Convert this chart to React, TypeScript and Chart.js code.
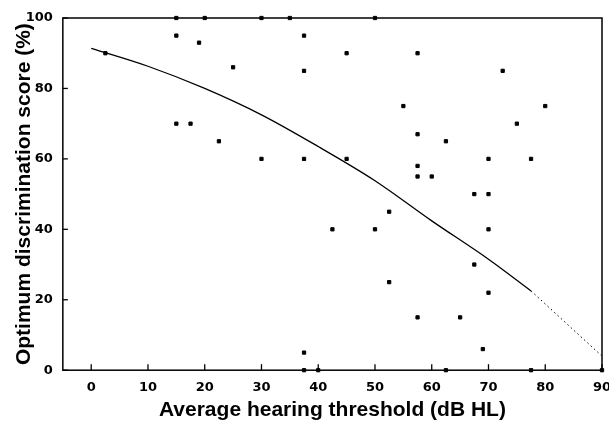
import React, { useEffect, useRef } from "react";
import { Chart, registerables } from "chart.js";

Chart.register(...registerables);

// Observed patients: average hearing threshold (dB HL) vs optimum discrimination score (%)
const scatterX = [
  2.5, 15, 15, 15, 17.5, 19, 20, 22.5, 25, 30, 30, 35,
  37.5, 37.5, 37.5, 37.5, 37.5, 40, 42.5, 45, 45, 50, 50,
  52.5, 52.5, 55, 57.5, 57.5, 57.5, 57.5, 57.5, 60, 62.5, 62.5,
  65, 67.5, 67.5, 69, 70, 70, 70, 70, 72.5, 75, 77.5, 77.5, 80, 90,
];
const scatterY = [
  90, 100, 95, 70, 70, 93, 100, 65, 86, 100, 60, 100,
  95, 85, 60, 5, 0, 0, 40, 90, 60, 100, 40,
  45, 25, 75, 90, 67, 58, 55, 15, 55, 65, 0,
  15, 50, 30, 6, 60, 50, 40, 22, 85, 70, 60, 0, 75, 0,
];

// Fitted curve (solid) and its extrapolation (dotted)
const fitX = [0, 10, 20, 30, 40, 50, 60, 70, 77.5];
const fitY = [91.4, 86.3, 80, 72.5, 63.5, 53.8, 42.4, 31.5, 22.5];
const extX = [77.5, 80, 90];
const extY = [22.5, 18.8, 4];

const xTickValues = [0, 10, 20, 30, 40, 50, 60, 70, 80, 90];
const yTickValues = [0, 20, 40, 60, 80, 100];

const xTitle = "Average hearing threshold (dB HL)";
const yTitle = "Optimum discrimination score (%)";

const TITLE_FONT = "'Liberation Sans', Arial, Helvetica, sans-serif";
const TICK_FONT = "'DejaVu Sans', 'Liberation Sans', sans-serif";

const framePlugin = {
  id: "frameAndInwardTicks",
  beforeDatasetsDraw(chart: any) {
    const { ctx, chartArea, scales } = chart;
    const { left, right, top, bottom } = chartArea;
    ctx.save();
    ctx.strokeStyle = "#000";
    ctx.lineWidth = 1.5;
    ctx.strokeRect(left, top, right - left, bottom - top);
    ctx.lineWidth = 1.3;
    xTickValues.forEach((v) => {
      const px = scales.x.getPixelForValue(v);
      ctx.beginPath();
      ctx.moveTo(px, bottom);
      ctx.lineTo(px, bottom - 6);
      ctx.stroke();
    });
    yTickValues.forEach((v) => {
      const py = scales.y.getPixelForValue(v);
      ctx.beginPath();
      ctx.moveTo(left, py);
      ctx.lineTo(left + 5, py);
      ctx.stroke();
    });
    ctx.restore();
  },
};

export default function App() {
  const canvasRef = useRef<HTMLCanvasElement | null>(null);

  useEffect(() => {
    if (!canvasRef.current) return;
    const chart = new Chart(canvasRef.current, {
      type: "scatter",
      data: {
        datasets: [
          {
            label: "Patients",
            data: scatterX.map((x, i) => ({ x, y: scatterY[i] })),
            backgroundColor: "#000",
            borderColor: "#000",
            pointStyle: "rect",
            pointRadius: 2.3,
            showLine: false,
          },
          {
            label: "Fit",
            data: fitX.map((x, i) => ({ x, y: fitY[i] })),
            showLine: true,
            borderColor: "#000",
            borderWidth: 1.3,
            pointRadius: 0,
            cubicInterpolationMode: "monotone",
          } as any,
          {
            label: "Extrapolation",
            data: extX.map((x, i) => ({ x, y: extY[i] })),
            showLine: true,
            borderColor: "#000",
            borderWidth: 1,
            borderDash: [1.5, 3],
            pointRadius: 0,
            cubicInterpolationMode: "monotone",
          } as any,
        ],
      },
      options: {
        animation: false,
        responsive: true,
        maintainAspectRatio: false,
        clip: false as any,
        layout: { padding: { left: 5, right: 7, top: 18, bottom: -2 } },
        plugins: {
          legend: { display: false },
          tooltip: { enabled: false },
        },
        scales: {
          x: {
            type: "linear",
            min: -5,
            max: 90,
            afterBuildTicks: (scale: any) => {
              scale.ticks = xTickValues.map((v) => ({ value: v }));
            },
            afterFit: (scale: any) => {
              scale.paddingRight = 0;
              scale.paddingLeft = 0;
            },
            grid: { display: false },
            border: { display: false },
            ticks: {
              color: "#000",
              padding: 2,
              maxRotation: 0,
              font: { family: TICK_FONT, size: 13, weight: "bold" },
            },
            title: {
              display: true,
              text: xTitle,
              color: "#000",
              padding: { top: 0, bottom: 0 },
              font: { family: TITLE_FONT, size: 21, weight: "bold" },
            },
          },
          y: {
            type: "linear",
            min: 0,
            max: 100,
            afterBuildTicks: (scale: any) => {
              scale.ticks = yTickValues.map((v) => ({ value: v }));
            },
            afterFit: (scale: any) => {
              scale.paddingTop = 0;
              scale.paddingBottom = 0;
            },
            grid: { display: false },
            border: { display: false },
            ticks: {
              color: "#000",
              padding: 2,
              font: { family: TICK_FONT, size: 13, weight: "bold" },
            },
            title: {
              display: true,
              text: yTitle,
              color: "#000",
              padding: { top: 6.4, bottom: -12.9 },
              font: { family: TITLE_FONT, size: 21, weight: "bold" },
            },
          },
        },
      },
      plugins: [framePlugin],
    });
    return () => chart.destroy();
  }, []);

  return (
    <div
      style={{
        position: "absolute",
        left: 0,
        top: 0,
        width: 609,
        height: 421,
        background: "#fff",
      }}
    >
      <canvas ref={canvasRef} />
    </div>
  );
}
